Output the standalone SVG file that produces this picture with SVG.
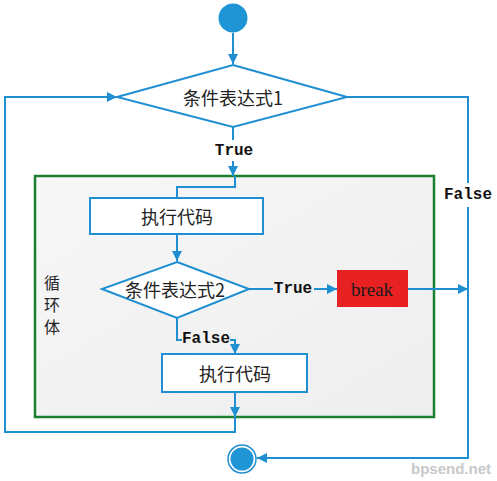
<svg xmlns="http://www.w3.org/2000/svg" width="497" height="481" viewBox="0 0 497 481">
<style>
.ln{fill:none;stroke:#1f8fd2;stroke-width:2}
.nd{fill:#fff;stroke:#1f8fd2;stroke-width:2}
.cn{font-family:"Noto Sans CJK SC",sans-serif;font-size:18px;fill:#222;text-anchor:middle;dominant-baseline:central}
.vt{font-size:16px}
.lb{font-family:"Liberation Mono",monospace;font-weight:bold;font-size:16px;fill:#111;text-anchor:middle;dominant-baseline:central}
</style>
<defs>
<marker id="ah" viewBox="0 0 10 10" refX="10" refY="5" markerWidth="10" markerHeight="10" markerUnits="userSpaceOnUse" orient="auto">
<path d="M0,0L10,5L0,10z" fill="#1f8fd2"/>
</marker>
<linearGradient id="bg" x1="0" y1="0" x2="1" y2="1">
<stop offset="0" stop-color="#f7f7f7"/><stop offset="1" stop-color="#eeeeee"/>
</linearGradient>
</defs>
<rect width="497" height="481" fill="#fff"/>
<g id="loop-body">
<rect x="35" y="176" width="399" height="241" fill="url(#bg)" stroke="#1a8030" stroke-width="2.5"/>
<text class="cn vt" x="52" y="282">循</text>
<text class="cn vt" x="52" y="304">环</text>
<text class="cn vt" x="52" y="326">体</text>
</g>
<g id="connectors">
<path class="ln" d="M233,33V64" marker-end="url(#ah)"/>
<path class="ln" d="M233,127V140"/>
<path class="ln" d="M233,161V176" marker-end="url(#ah)"/>
<path class="ln" d="M235,176V187H177V198"/>
<path class="ln" d="M177,234V261" marker-end="url(#ah)"/>
<path class="ln" d="M249,289H273"/>
<path class="ln" d="M314,289H337" marker-end="url(#ah)"/>
<path class="ln" d="M408,289H468" marker-end="url(#ah)"/>
<path class="ln" d="M177,318V340H182"/>
<path class="ln" d="M230,340H235V354" marker-end="url(#ah)"/>
<path class="ln" d="M235,392V417" marker-end="url(#ah)"/>
<path class="ln" d="M235,417V432H5V97H117" marker-end="url(#ah)"/>
<path class="ln" d="M347,97H468V183"/>
<path class="ln" d="M468,207V458H257" marker-end="url(#ah)"/>
<text class="lb" x="234" y="151">True</text>
<text class="lb" x="293" y="289">True</text>
<text class="lb" x="206" y="339">False</text>
<text class="lb" x="468" y="195">False</text>
</g>
<g id="start"><circle cx="233" cy="18" r="14.5" fill="#1f95d6"/></g>
<g id="cond1">
<path class="nd" d="M233,65L347,97L233,127L117,97z"/>
<text class="cn" x="233" y="97">条件表达式1</text>
</g>
<g id="exec1">
<rect class="nd" x="90" y="198" width="173" height="36"/>
<text class="cn" x="177" y="216">执行代码</text>
</g>
<g id="cond2">
<path class="nd" d="M177,262L249,289L177,318L102,289z"/>
<text class="cn" x="175" y="289">条件表达式2</text>
</g>
<g id="break">
<rect x="337" y="270" width="71" height="37" fill="#e82222"/>
<text x="372" y="289" font-family="Liberation Serif,serif" font-size="19" fill="#1a1a1a" text-anchor="middle" dominant-baseline="central">break</text>
</g>
<g id="exec2">
<rect class="nd" x="162" y="354" width="145" height="38"/>
<text class="cn" x="235" y="373">执行代码</text>
</g>
<g id="end">
<circle cx="242" cy="459" r="14" fill="#fff" stroke="#1f8fd2" stroke-width="1.5"/>
<circle cx="242" cy="459" r="11.5" fill="#1f95d6"/>
</g>
<text x="451" y="468" font-family="Liberation Sans,sans-serif" font-weight="bold" font-size="15" fill="#c8c8c8" text-anchor="middle" dominant-baseline="central">bpsend.net</text>
</svg>
